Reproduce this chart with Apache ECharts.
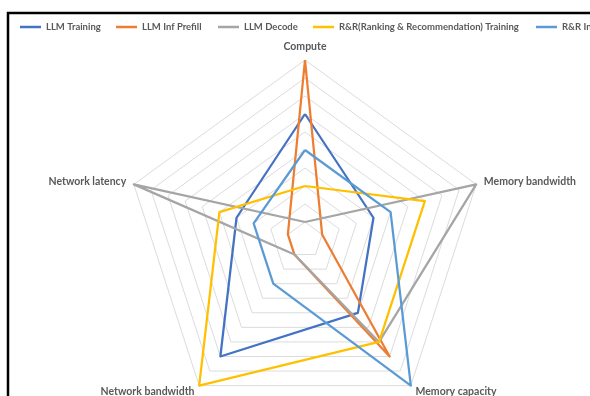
<!DOCTYPE html>
<html>
<head>
<meta charset="utf-8">
<script src="https://cdn.jsdelivr.net/npm/echarts@6/dist/echarts.min.js"></script>
<style>
  html, body { margin: 0; padding: 0; background: #fff; }
  #chart { width: 590px; height: 396px; }
</style>
</head>
<body>
<div id="chart"></div>
<script>
// Categories in reference (clockwise from top)
const categories = ['Compute', 'Memory bandwidth', 'Memory capacity', 'Network bandwidth', 'Network latency'];
const axisMax = 10;

const seriesNames = ['LLM Training', 'LLM Inf Prefill', 'LLM Decode', 'R&R(Ranking & Recommendation) Training', 'R&R Inference'];
const llmTraining   = [7, 4, 5, 8, 4];
const llmInfPrefill = [10, 1, 8, 1, 1];
const llmDecode     = [1, 10, 7, 1, 10];
const rrTraining    = [3, 7, 7, 10, 5];
const rrInference   = [5, 5, 10, 3, 3];
const seriesValues = [llmTraining, llmInfPrefill, llmDecode, rrTraining, rrInference];

const colors = ['#4472C4', '#ED7D31', '#A5A5A5', '#FFC000', '#5B9BD5'];
const legendLeft = [20, 116, 218, 313, 536];

// ECharts lays out radar indicators counter-clockwise; reorder to show them clockwise.
const order = [0, 4, 3, 2, 1];

const chart = echarts.init(document.getElementById('chart'), null, { renderer: 'canvas' });

const textColor = '#595959';
const font = 'Lato, "Open Sans", sans-serif';

const legends = seriesNames.map((n, i) => ({
  data: [n],
  left: legendLeft[i],
  top: 22,
  padding: 0,
  icon: 'rect',
  itemWidth: 21,
  itemHeight: 2.5,
  selectedMode: false,
  textStyle: { color: textColor, fontSize: 9.5, fontWeight: 'bold', fontFamily: font }
}));

chart.setOption({
  backgroundColor: '#fff',
  animation: false,
  color: colors,
  legend: legends,
  radar: {
    center: [305, 240],
    radius: 180,
    startAngle: 90,
    splitNumber: 10,
    shape: 'polygon',
    nameGap: 8,
    indicator: order.map(i => ({ name: categories[i], min: 0, max: axisMax })),
    axisName: { color: textColor, fontSize: 10.5, fontWeight: 'bold', fontFamily: font },
    splitLine: { lineStyle: { color: '#DCDCDC', width: 1 } },
    splitArea: { show: false },
    axisLine: { show: false },
    axisTick: { show: false },
    axisLabel: { show: false }
  },
  graphic: [{
    type: 'rect',
    z: 100,
    shape: { x: 8, y: 13, width: 800, height: 600 },
    style: { fill: 'none', stroke: '#000', lineWidth: 2.5 }
  }],
  series: [{
    type: 'radar',
    symbol: 'none',
    data: seriesNames.map((n, i) => ({
      name: n,
      value: order.map(k => seriesValues[i][k]),
      lineStyle: { color: colors[i], width: 2.25 },
      itemStyle: { color: colors[i] }
    }))
  }]
});
</script>
</body>
</html>
